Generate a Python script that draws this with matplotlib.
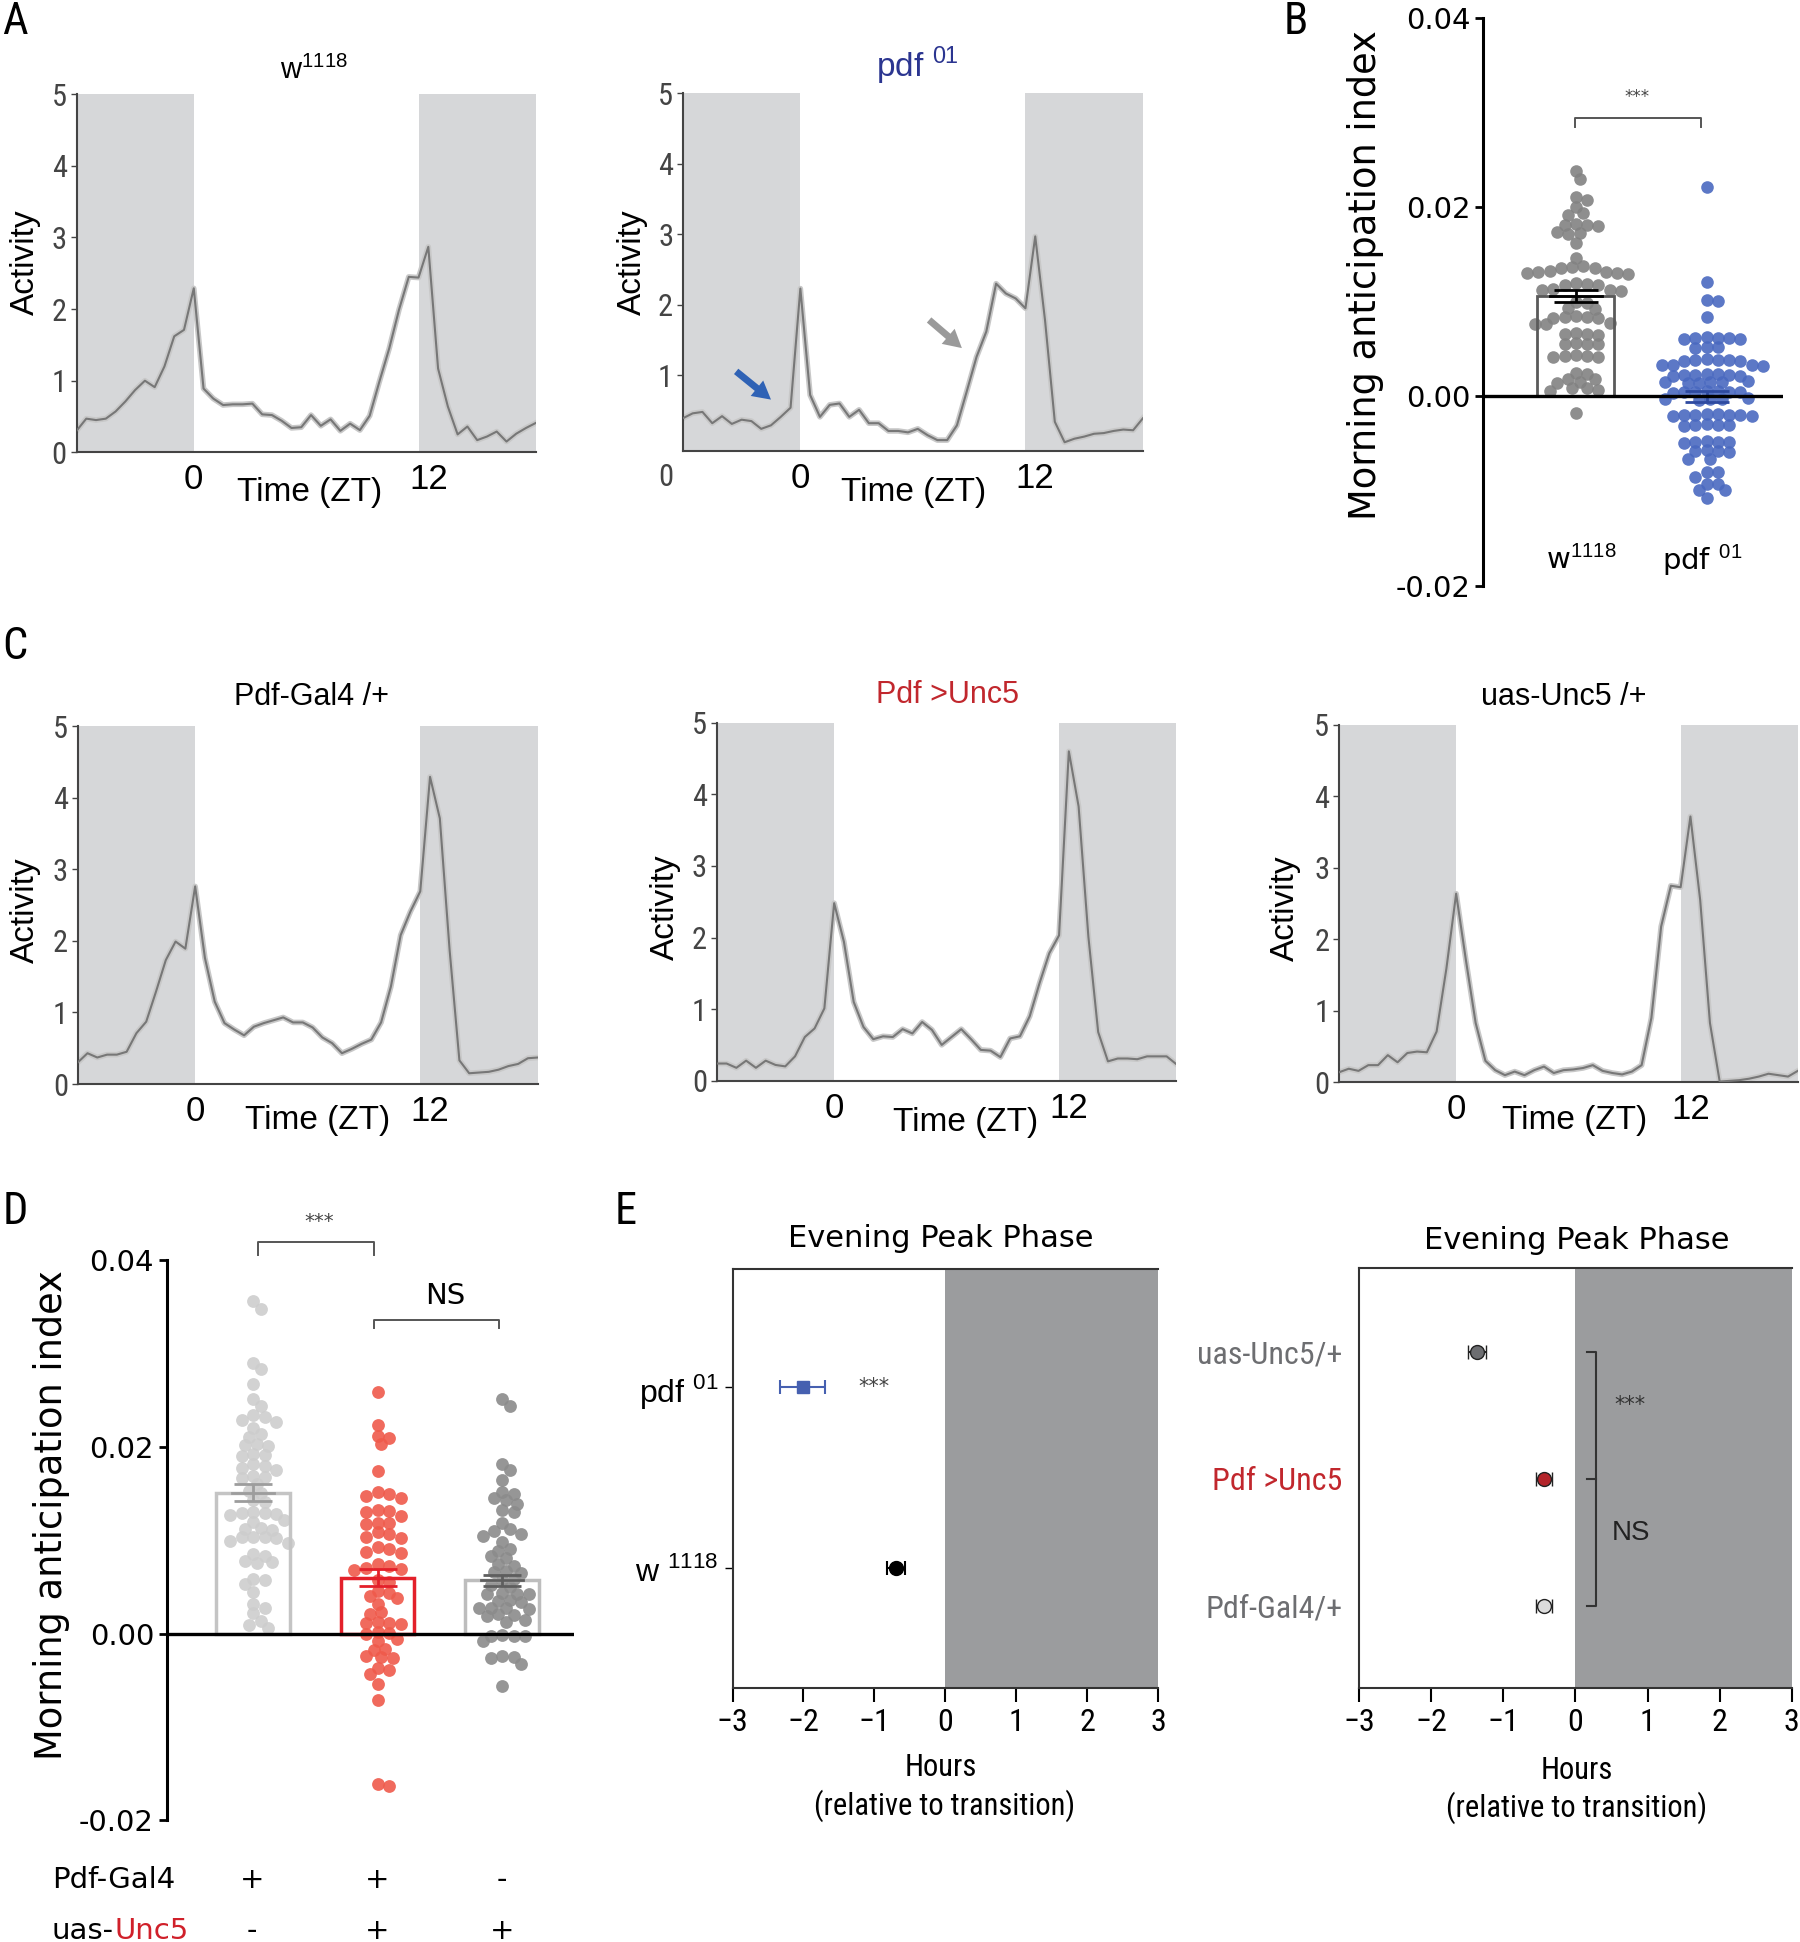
import numpy as np
import matplotlib
matplotlib.use("Agg")
import matplotlib.pyplot as plt
from matplotlib import font_manager

# ---------------- data ----------------
# activity profiles, 30-min bins from ZT -6 to ZT 17.5
times = np.arange(48) * 0.5 - 6.0
lights_on, lights_off = 0.0, 11.5

w1118_act = [0.30, 0.47, 0.45, 0.47, 0.57, 0.71, 0.87, 1.00, 0.91, 1.20, 1.62, 1.71,
             2.29, 0.89, 0.75, 0.66, 0.67, 0.67, 0.68, 0.53, 0.52, 0.44, 0.34, 0.35,
             0.52, 0.37, 0.46, 0.30, 0.40, 0.31, 0.51, 0.99, 1.45, 1.99, 2.45, 2.44,
             2.87, 1.17, 0.64, 0.25, 0.36, 0.17, 0.22, 0.29, 0.15, 0.26, 0.34, 0.41]
pdf01_act = [0.39, 0.46, 0.48, 0.32, 0.42, 0.31, 0.37, 0.35, 0.24, 0.29, 0.41, 0.54,
             2.23, 0.72, 0.41, 0.58, 0.60, 0.41, 0.51, 0.32, 0.32, 0.21, 0.21, 0.19,
             0.24, 0.15, 0.08, 0.08, 0.29, 0.77, 1.26, 1.62, 2.30, 2.16, 2.09, 1.95,
             2.97, 1.78, 0.34, 0.05, 0.10, 0.13, 0.17, 0.18, 0.21, 0.23, 0.22, 0.39]
gal4_act = [0.30, 0.43, 0.37, 0.41, 0.41, 0.45, 0.71, 0.87, 1.29, 1.73, 1.99, 1.89,
            2.76, 1.76, 1.15, 0.85, 0.76, 0.68, 0.80, 0.85, 0.89, 0.93, 0.86, 0.86,
            0.79, 0.65, 0.57, 0.43, 0.49, 0.56, 0.62, 0.86, 1.36, 2.08, 2.41, 2.69,
            4.29, 3.71, 1.87, 0.33, 0.15, 0.16, 0.17, 0.20, 0.25, 0.28, 0.36, 0.37]
unc5_act = [0.24, 0.24, 0.18, 0.28, 0.18, 0.28, 0.22, 0.20, 0.34, 0.61, 0.73, 1.01,
            2.48, 1.94, 1.10, 0.75, 0.58, 0.62, 0.61, 0.72, 0.66, 0.82, 0.71, 0.50,
            0.61, 0.72, 0.58, 0.43, 0.42, 0.33, 0.59, 0.62, 0.90, 1.36, 1.78, 2.03,
            4.60, 3.83, 2.01, 0.68, 0.27, 0.31, 0.31, 0.30, 0.34, 0.34, 0.34, 0.23]
uas_act = [0.14, 0.19, 0.16, 0.24, 0.24, 0.38, 0.28, 0.41, 0.43, 0.42, 0.71, 1.59,
           2.64, 1.71, 0.83, 0.30, 0.17, 0.10, 0.15, 0.10, 0.17, 0.22, 0.13, 0.17,
           0.18, 0.20, 0.24, 0.16, 0.13, 0.11, 0.15, 0.24, 0.90, 2.18, 2.75, 2.73,
           3.72, 2.55, 0.83, 0.01, 0.02, 0.03, 0.05, 0.08, 0.12, 0.10, 0.08, 0.16]

# morning anticipation index, panel B
b_groups = ["w$^{1118}$", "pdf $^{01}$"]
b_means = [0.0106, 0.0000]
b_sems = [0.00065, 0.0006]
b_w1118 = [0.0239, 0.0230, 0.0211, 0.0208, 0.0200, 0.0194, 0.0192, 0.0182, 0.0181, 0.0181,
           0.0180, 0.0174, 0.0173, 0.0172, 0.0162, 0.0146, 0.0138, 0.0137, 0.0136, 0.0136,
           0.0133, 0.0132, 0.0132, 0.0131, 0.0131, 0.0130, 0.0120, 0.0119, 0.0118, 0.0118,
           0.0114, 0.0113, 0.0113, 0.0112, 0.0100, 0.0099, 0.0094, 0.0093, 0.0085, 0.0084,
           0.0084, 0.0083, 0.0083, 0.0078, 0.0077, 0.0077, 0.0067, 0.0066, 0.0066, 0.0065,
           0.0057, 0.0056, 0.0056, 0.0055, 0.0044, 0.0043, 0.0043, 0.0042, 0.0042, 0.0025,
           0.0024, 0.0019, 0.0018, 0.0015, 0.0014, 0.0009, 0.0009, 0.0007, 0.0006, -0.0017]
b_pdf01 = [0.0222, 0.0121, 0.0102, 0.0101, 0.0084, 0.0063, 0.0062, 0.0062, 0.0061, 0.0062,
           0.0061, 0.0052, 0.0052, 0.0051, 0.0039, 0.0040, 0.0039, 0.0038, 0.0039, 0.0038,
           0.0033, 0.0033, 0.0032, 0.0033, 0.0023, 0.0024, 0.0023, 0.0022, 0.0023, 0.0024,
           0.0022, 0.0015, 0.0015, 0.0014, 0.0016, 0.0015, 0.0014, 0.0005, 0.0005, 0.0006,
           0.0004, 0.0005, 0.0005, 0.0006, -0.0003, -0.0003, -0.0002, -0.0004, -0.0003,
           -0.0020, -0.0020, -0.0019, -0.0021, -0.0020, -0.0020, -0.0019, -0.0021,
           -0.0030, -0.0030, -0.0031, -0.0029, -0.0030, -0.0048, -0.0048, -0.0047, -0.0049,
           -0.0048, -0.0058, -0.0058, -0.0057, -0.0059, -0.0066, -0.0066, -0.0080, -0.0080,
           -0.0085, -0.0093, -0.0093, -0.0099, -0.0099, -0.0107]

# morning anticipation index, panel D
d_means = [0.0151, 0.0060, 0.0057]
d_sems = [0.0009, 0.0009, 0.0006]
d_gal4 = [0.0356, 0.0348, 0.0290, 0.0284, 0.0267, 0.0251, 0.0244, 0.0234, 0.0232, 0.0229,
          0.0227, 0.0220, 0.0214, 0.0211, 0.0203, 0.0202, 0.0201, 0.0192, 0.0191, 0.0190,
          0.0182, 0.0180, 0.0177, 0.0175, 0.0169, 0.0168, 0.0167, 0.0160, 0.0153, 0.0151,
          0.0143, 0.0141, 0.0130, 0.0129, 0.0129, 0.0128, 0.0127, 0.0122, 0.0120, 0.0113,
          0.0112, 0.0111, 0.0104, 0.0103, 0.0103, 0.0102, 0.0099, 0.0097, 0.0085, 0.0083,
          0.0078, 0.0077, 0.0076, 0.0059, 0.0057, 0.0053, 0.0045, 0.0032, 0.0027, 0.0022,
          0.0014, 0.0009, 0.0006]
d_unc5 = [0.0259, 0.0224, 0.0212, 0.0210, 0.0203, 0.0174, 0.0152, 0.0150, 0.0147, 0.0145,
          0.0132, 0.0131, 0.0130, 0.0126, 0.0119, 0.0118, 0.0117, 0.0109, 0.0107, 0.0104,
          0.0102, 0.0093, 0.0091, 0.0088, 0.0086, 0.0075, 0.0073, 0.0070, 0.0069, 0.0068,
          0.0057, 0.0055, 0.0046, 0.0044, 0.0040, 0.0038, 0.0032, 0.0023, 0.0021, 0.0012,
          0.0011, 0.0011, 0.0010, 0.0002, 0.0001, 0.0000, -0.0006, -0.0008, -0.0016, -0.0018,
          -0.0024, -0.0025, -0.0026, -0.0037, -0.0039, -0.0043, -0.0054, -0.0071, -0.0161,
          -0.0163]
d_uas = [0.0251, 0.0244, 0.0182, 0.0175, 0.0165, 0.0152, 0.0150, 0.0145, 0.0143, 0.0139,
         0.0132, 0.0130, 0.0118, 0.0112, 0.0110, 0.0107, 0.0105, 0.0098, 0.0091, 0.0089,
         0.0083, 0.0081, 0.0075, 0.0073, 0.0067, 0.0066, 0.0065, 0.0059, 0.0057, 0.0052,
         0.0050, 0.0044, 0.0043, 0.0043, 0.0042, 0.0036, 0.0035, 0.0034, 0.0028, 0.0027,
         0.0027, 0.0026, 0.0021, 0.0020, 0.0019, 0.0015, 0.0013, -0.0001, -0.0002, -0.0002,
         -0.0003, -0.0008, -0.0024, -0.0025, -0.0026, -0.0032, -0.0056]
d_pdf_gal4 = ["+", "+", "-"]
d_uas_unc5 = ["-", "+", "+"]

# evening peak phase, panel E (hours relative to lights-off)
e1_labels = ["w $^{1118}$", "pdf $^{01}$"]
e1_means = [-0.70, -2.01]
e1_sems = [0.125, 0.315]
e2_labels = ["Pdf-Gal4/+", "Pdf >Unc5", "uas-Unc5/+"]
e2_means = [-0.44, -0.44, -1.37]
e2_sems = [0.11, 0.11, 0.125]

# ---------------- figure ----------------
W, H = 1800, 1942
fig = plt.figure(figsize=(W / 100, H / 100), dpi=100)

avail = {f.name for f in font_manager.fontManager.ttflist}
NARROW = next((n for n in ["Liberation Sans Narrow", "Roboto Condensed"] if n in avail),
              "Liberation Sans")
SANS = "Liberation Sans"
WIDE = "DejaVu Sans"
plt.rcParams["mathtext.fontset"] = "custom"
plt.rcParams["mathtext.rm"] = SANS
plt.rcParams["font.family"] = SANS

SHADE = "#d6d7d9"
RED = "#c1272d"


def px_axes(l, t, r, b):
    return fig.add_axes([l / W, 1 - b / H, (r - l) / W, (b - t) / H])


def ftext(x, y, s, **kw):
    kw.setdefault("ha", "center")
    kw.setdefault("va", "center")
    return fig.text(x / W, 1 - y / H, s, **kw)


def activity(box, vals, ylow=0.0, zero=True):
    ax = px_axes(*box)
    ax.axvspan(times[0], lights_on, color=SHADE, lw=0, zorder=0)
    ax.axvspan(lights_off, times[-1], color=SHADE, lw=0, zorder=0)
    ax.plot(times, vals, color="#c8c8c8", lw=4, zorder=2, solid_joinstyle="round")
    ax.plot(times, vals, color="#777777", lw=1.5, zorder=3)
    ax.set_xlim(times[0], times[-1])
    ax.set_ylim(ylow, 5)
    ax.set_yticks(range(0 if zero else 1, 6))
    ax.set_xticks([0, 12])
    ax.set_xticklabels(["0", "12"])
    ax.tick_params(axis="x", length=0, pad=8, labelsize=25)
    ax.tick_params(axis="y", length=4, width=1, pad=3, labelsize=22,
                   labelcolor="#444444", color="#444444")
    for lab in ax.get_yticklabels():
        lab.set_family(NARROW)
    for s in ["top", "right"]:
        ax.spines[s].set_visible(False)
    for s in ["left", "bottom"]:
        ax.spines[s].set_color("#444444")
        ax.spines[s].set_linewidth(1.5)
    return ax


def swarm(ax, xc, values, diam, overlap=0.72):
    pos = ax.get_position()
    x0, x1 = ax.get_xlim()
    y0, y1 = ax.get_ylim()
    sx = pos.width * W / (x1 - x0)
    sy = pos.height * H / (y1 - y0)
    vals = np.asarray(values, dtype=float)
    ys = vals * sy
    offs = np.zeros(len(vals))
    placed = []
    step = diam * 0.3
    lim2 = (overlap * diam) ** 2
    for i in np.argsort(-vals):
        for k in range(400):
            off = ((k + 1) // 2) * step * (1 if k % 2 else -1)
            if all((px - off) ** 2 + (py - ys[i]) ** 2 >= lim2 for px, py in placed):
                break
        placed.append((off, ys[i]))
        offs[i] = off
    return xc + offs / sx, vals


# ---- panel A ----
axA1 = activity((76.5, 94.3, 535.8, 452.3), w1118_act)
ftext(314, 70, "w$^{1118}$", fontsize=21)
ftext(25, 262, "Activity", fontsize=24, rotation=90)
ftext(310, 492, "Time (ZT)", fontsize=24)

axA2 = activity((682.9, 93.3, 1142.9, 450.7), pdf01_act, ylow=-0.07, zero=False)
ftext(917, 66, "pdf $^{01}$", fontsize=24, color="#2b3590")
ftext(632, 262, "Activity", fontsize=24, rotation=90)
ftext(666, 478, "0", fontsize=22, color="#444444", family=NARROW)
ftext(914, 493, "Time (ZT)", fontsize=24)
axA2.annotate("", xy=(-1.39, 0.63), xytext=(-3.39, 1.08),
              arrowprops=dict(arrowstyle="simple,tail_width=0.38,head_width=1.1,head_length=1.0",
                              mutation_scale=13, color="#2f62b5", lw=0), zorder=5)
axA2.annotate("", xy=(8.36, 1.36), xytext=(6.47, 1.81),
              arrowprops=dict(arrowstyle="simple,tail_width=0.38,head_width=1.1,head_length=1.0",
                              mutation_scale=13, color="#9a9a9a", lw=0), zorder=5)

# ---- panel C ----
activity((77.7, 726, 537.7, 1084), gal4_act)
ftext(312, 697, "Pdf-Gal4 /+", fontsize=22)
ftext(25, 910, "Activity", fontsize=24, rotation=90)
ftext(318, 1120, "Time (ZT)", fontsize=24)

activity((716.8, 722.7, 1176.4, 1080.7), unc5_act)
ftext(948, 695, "Pdf >Unc5", fontsize=22, color=RED)
ftext(665, 907, "Activity", fontsize=24, rotation=90)
ftext(966, 1122, "Time (ZT)", fontsize=24)

activity((1339, 725, 1797.8, 1082.3), uas_act)
ftext(1564, 697, "uas-Unc5 /+", fontsize=22)
ftext(1285, 908, "Activity", fontsize=24, rotation=90)
ftext(1575, 1120, "Time (ZT)", fontsize=24)


def index_axes(ax, yl_x, yl_y):
    ax.set_ylim(-0.02, 0.04)
    ax.set_yticks([-0.02, 0.0, 0.02, 0.04])
    ax.set_yticklabels(["-0.02", "0.00", "0.02", "0.04"])
    ax.set_xticks([])
    for s in ["top", "right", "bottom"]:
        ax.spines[s].set_visible(False)
    ax.spines["left"].set_linewidth(2.2)
    ax.tick_params(axis="y", length=6, width=2, labelsize=21, pad=3)
    for lab in ax.get_yticklabels():
        lab.set_family(WIDE)
    ax.axhline(0, color="black", lw=2.4, zorder=5)
    ftext(yl_x, yl_y, "Morning anticipation index", fontsize=26.5, rotation=90, family=WIDE)


def bracket(x1, x2, ytop, ydrop, color="#555555"):
    fig.add_artist(plt.Line2D([x1 / W, x1 / W, x2 / W, x2 / W],
                              [1 - ydrop / H, 1 - ytop / H, 1 - ytop / H, 1 - ydrop / H],
                              color=color, lw=1.4))


# ---- panel B ----
axB = px_axes(1482.7, 18.4, 1783, 585.5)
axB.set_xlim(-0.711, 1.583)
index_axes(axB, 1365, 275)
for i, (pts, col, ecol, mcol) in enumerate([(b_w1118, "#828282", "#5a5a5a", "black"),
                                            (b_pdf01, "#4a69c0", "#2e4aa0", "#2e4aa0")]):
    xs, ys = swarm(axB, i, pts, 12.5)
    axB.scatter(xs, ys, s=82, color=col, lw=0, alpha=0.9, zorder=2)
    axB.bar(i, b_means[i], width=0.588, fill=False, edgecolor=ecol, lw=2, zorder=3)
    axB.errorbar(i, b_means[i], yerr=b_sems[i], color=mcol, capsize=16, capthick=2,
                 elinewidth=2, zorder=4)
    axB.plot([i - 0.2, i + 0.2], [b_means[i], b_means[i]], color=mcol, lw=2, zorder=4)
ftext(1581, 560, b_groups[0], fontsize=21, family=WIDE)
ftext(1702, 560, b_groups[1], fontsize=21, family=WIDE)
bracket(1575, 1701, 118, 127)
ftext(1637, 97, "***", fontsize=12, family=WIDE, color="#444444")

# ---- panel D ----
axD = px_axes(166.5, 1260.2, 574, 1820.4)
axD.set_xlim(-0.695, 2.578)
index_axes(axD, 52, 1515)
d_style = [(d_gal4, "#cdcdcd", "#c4c4c4", "#9d9d9d"),
           (d_unc5, "#ef5a4b", "#e3202a", "#e3202a"),
           (d_uas, "#8b8b8b", "#bdbdbd", "#5e5e5e")]
for i, (pts, col, ecol, mcol) in enumerate(d_style):
    xs, ys = swarm(axD, i, pts, 12.8)
    axD.scatter(xs, ys, s=85, color=col, lw=0, alpha=0.9, zorder=2)
    axD.bar(i, d_means[i], width=0.59, fill=False, edgecolor=ecol, lw=2.5, zorder=3)
    axD.errorbar(i, d_means[i], yerr=d_sems[i], color=mcol, capsize=14, capthick=2,
                 elinewidth=2, zorder=4)
    axD.plot([i - 0.17, i + 0.17], [d_means[i], d_means[i]], color=mcol, lw=2, zorder=4)
bracket(258, 374, 1242, 1255)
ftext(319, 1222, "***", fontsize=14, family=WIDE, color="#444444")
bracket(374, 499, 1320, 1328)
ftext(445, 1296, "NS", fontsize=21, family=WIDE)

row_x = [252, 377, 502]
t1 = ftext(52, 1880, "Pdf-Gal4", fontsize=21, family=WIDE, ha="left")
for x, s in zip(row_x, d_pdf_gal4):
    ftext(x, 1880, s, fontsize=21, family=WIDE)
t2 = ftext(52, 1931, "uas-", fontsize=21, family=WIDE, ha="left")
fig.canvas.draw()
bb = t2.get_window_extent(renderer=fig.canvas.get_renderer())
fig.text(bb.x1 / W, 1 - 1931 / H, "Unc5", fontsize=21, family=WIDE, color="#d0202a",
         ha="left", va="center")
for x, s in zip(row_x, d_uas_unc5):
    ftext(x, 1931, s, fontsize=21, family=WIDE)


# ---- panel E ----
def phase_axes(box, ylim):
    ax = px_axes(*box)
    ax.axvspan(0, 3, color="#9b9c9e", lw=0, zorder=0)
    ax.set_xlim(-3, 3)
    ax.set_ylim(*ylim)
    ax.set_xticks(range(-3, 4))
    ax.tick_params(axis="x", length=10, width=1.5, labelsize=23, pad=4)
    for lab in ax.get_xticklabels():
        lab.set_family(NARROW)
    ax.spines["right"].set_visible(False)
    for s in ["left", "top", "bottom"]:
        ax.spines[s].set_color("#333333")
        ax.spines[s].set_linewidth(1.5)
    return ax


axE1 = phase_axes((732.5, 1268.6, 1158.2, 1688.4), (0.337, 2.652))
axE1.set_yticks([1, 2])
axE1.set_yticklabels(e1_labels, fontsize=23, family=SANS)
axE1.tick_params(axis="y", length=6, width=1, pad=4)
axE1.errorbar(e1_means[1], 2, xerr=e1_sems[1], fmt="s", color="#4660b0", ms=8,
              capsize=5, elinewidth=1.5, capthick=1.5, zorder=3)
axE1.errorbar(e1_means[0], 1, xerr=e1_sems[0], fmt="o", color="black", ms=10,
              capsize=5, elinewidth=1.5, capthick=1.5, zorder=3)
axE1.text(-1.0, 2.0, "***", fontsize=15, family=WIDE, color="#444444",
          ha="center", va="center")
ftext(941, 1238, "Evening Peak Phase", fontsize=22, family=WIDE)
ftext(941, 1768, "Hours", fontsize=22, family=NARROW)
ftext(945, 1806, "(relative to transition)", fontsize=22, family=NARROW)

axE2 = phase_axes((1359.1, 1267.7, 1791.7, 1688.4), (0.346, 3.669))
axE2.set_yticks([1, 2, 3])
axE2.set_yticklabels(e2_labels, fontsize=23, family=NARROW)
axE2.tick_params(axis="y", length=0, pad=12)
for lab, c in zip(axE2.get_yticklabels(), ["#6d6e71", RED, "#6d6e71"]):
    lab.set_color(c)
for y, fc in zip([1, 2, 3], ["#dcdcdc", "#b3242a", "#6d6e71"]):
    axE2.errorbar(e2_means[y - 1], y, xerr=e2_sems[y - 1], fmt="o", mfc=fc, mec="#222222",
                  mew=1, ecolor="#222222", ms=10, capsize=5, elinewidth=1.5,
                  capthick=1.5, zorder=3)
axE2.plot([0.154, 0.29, 0.29, 0.154], [3, 3, 1, 1], color="#333333", lw=1.5)
axE2.plot([0.154, 0.29], [2, 2], color="#333333", lw=1.5)
axE2.text(0.76, 2.585, "***", fontsize=15, family=WIDE, color="#333333",
          ha="center", va="center")
axE2.text(0.77, 1.574, "NS", fontsize=20, family=SANS, color="#222222",
          ha="center", va="center")
ftext(1577, 1240, "Evening Peak Phase", fontsize=22, family=WIDE)
ftext(1577, 1770, "Hours", fontsize=22, family=NARROW)
ftext(1577, 1808, "(relative to transition)", fontsize=22, family=NARROW)

# ---- panel letters ----
for x, y, s in [(15, 22, "A"), (1296, 22, "B"), (15, 647, "C"), (15, 1212, "D"), (626, 1212, "E")]:
    ftext(x, y, s, fontsize=32, family=NARROW)

fig.savefig("out.png", dpi=100)
